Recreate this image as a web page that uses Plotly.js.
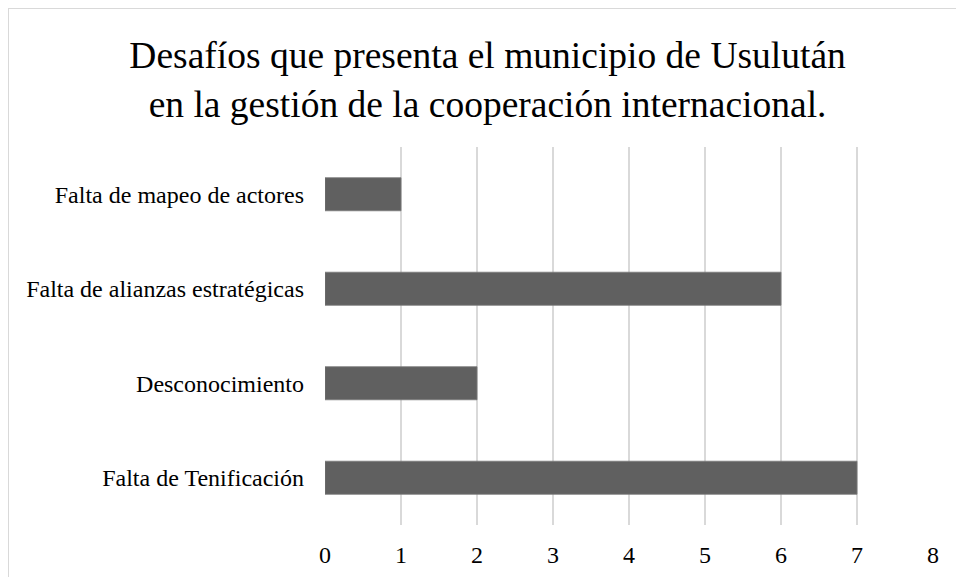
<!DOCTYPE html>
<html>
<head>
<meta charset="utf-8">
<script src="https://cdn.plot.ly/plotly-3.0.1.min.js"></script>
<style>
html,body{margin:0;padding:0;background:#fff;}
#wrap{position:relative;width:956px;height:577px;overflow:hidden;}
#chart{width:956px;height:577px;}
#frame{position:absolute;left:8px;top:8px;width:960px;height:600px;border:1.5px solid #d9d9d9;pointer-events:none;box-sizing:border-box;}
</style>
</head>
<body>
<div id="wrap"><div id="chart"></div><div id="frame"></div></div>
<script>
var categories = ["Falta de Tenificación", "Desconocimiento", "Falta de alianzas estratégicas", "Falta de mapeo de actores"];
var values = [7, 2, 6, 1];
var xTicks = [0, 1, 2, 3, 4, 5, 6, 7, 8];
var titleText = "Desafíos que presenta el municipio de Usulután<br>en la gestión de la cooperación internacional.";

var serif = "'Liberation Serif', 'Times New Roman', Times, serif";
var trace = {
  type: "bar",
  orientation: "h",
  x: values,
  y: categories,
  marker: {color: "#606060", line: {color: "#7a7a7a", width: 0.8}},
  hoverinfo: "none"
};
var layout = {
  width: 956, height: 577,
  margin: {l: 325, r: 23, t: 147, b: 52},
  paper_bgcolor: "#ffffff",
  plot_bgcolor: "#ffffff",
  font: {family: serif, color: "#000000", size: 24},
  title: {text: titleText, font: {family: serif, size: 37.5, color: "#000"}, x: 0.51, xanchor: "center", y: 1 - 68/577, yanchor: "middle"},
  bargap: 0.65,
  xaxis: {range: [0, 8], tickvals: xTicks, ticktext: xTicks.map(String), showgrid: true, gridcolor: "#d9d9d9", gridwidth: 1.5, zeroline: false, showline: false, ticks: "", ticklabelstandoff: 13, tickfont: {size: 24, family: serif}, fixedrange: true},
  yaxis: {type: "category", categoryorder: "array", categoryarray: categories, showgrid: false, zeroline: false, showline: false, ticks: "", ticklabelstandoff: 20, tickfont: {size: 24, family: serif}, fixedrange: true},
  showlegend: false
};
Plotly.newPlot("chart", [trace], layout, {displayModeBar: false, staticPlot: true});
</script>
</body>
</html>
